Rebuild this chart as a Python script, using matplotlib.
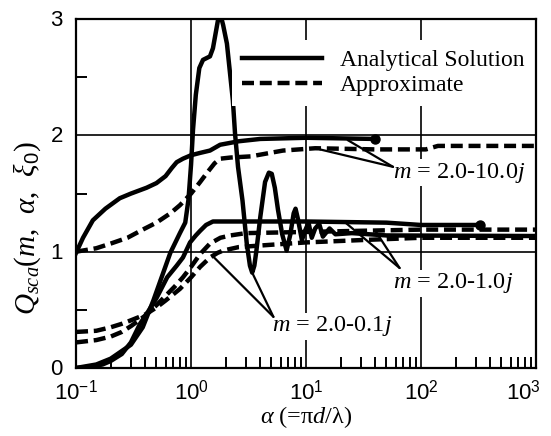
import matplotlib
matplotlib.use("Agg")
import matplotlib.pyplot as plt
from matplotlib.ticker import FixedLocator, LogLocator, FuncFormatter, NullFormatter
from matplotlib.transforms import ScaledTranslation
import numpy as np

plt.rcParams["font.family"] = ["Liberation Serif", "DejaVu Serif"]
plt.rcParams["mathtext.fontset"] = "custom"
plt.rcParams["mathtext.rm"] = "Liberation Sans"
plt.rcParams["mathtext.it"] = "Liberation Serif:italic"
plt.rcParams["mathtext.fallback"] = "stix"

# m = 2.0-10.0j
a_10_exact = [0.1, 0.115, 0.14, 0.18, 0.24, 0.3, 0.41, 0.5, 0.6, 0.68, 0.75, 0.85, 1.0,
              1.2, 1.46, 1.79, 2.6, 4.0, 10, 40]
q_10_exact = [0.99, 1.12, 1.27, 1.37, 1.46, 1.50, 1.55, 1.59, 1.65, 1.72, 1.77, 1.80, 1.83,
              1.85, 1.87, 1.92, 1.95, 1.97, 1.98, 1.97]
a_10_approx = [0.1, 0.15, 0.2, 0.28, 0.38, 0.5, 0.66, 0.8, 1.0, 1.2, 1.38, 1.6, 1.79, 2.2,
               3.3, 6.3, 12, 40, 110, 140, 1000]
q_10_approx = [1.0, 1.03, 1.07, 1.12, 1.19, 1.25, 1.33, 1.40, 1.50, 1.60, 1.68, 1.76, 1.80, 1.81,
               1.82, 1.87, 1.89, 1.88, 1.88, 1.91, 1.91]

# m = 2.0-1.0j
a_1_exact = [0.1, 0.13, 0.17, 0.2, 0.25, 0.3, 0.36, 0.42, 0.5, 0.62, 0.75, 0.85, 0.98,
             1.1, 1.2, 1.35, 1.55, 3, 10, 50, 100, 326]
q_1_exact = [0.0, 0.01, 0.03, 0.06, 0.12, 0.22, 0.38, 0.48, 0.60, 0.78, 0.88, 0.95, 1.08,
             1.14, 1.18, 1.23, 1.26, 1.26, 1.26, 1.25, 1.23, 1.23]
a_1_approx = [0.1, 0.15, 0.2, 0.25, 0.3, 0.4, 0.5, 0.6, 0.72, 0.85, 1.0, 1.2, 1.46, 1.8,
              2.2, 3, 10, 30, 100, 1000]
q_1_approx = [0.22, 0.24, 0.27, 0.31, 0.36, 0.45, 0.54, 0.62, 0.70, 0.78, 0.87, 0.98, 1.07, 1.12,
              1.14, 1.16, 1.17, 1.18, 1.19, 1.19]

# m = 2.0-0.1j
a_01_exact = [0.1, 0.15, 0.2, 0.3, 0.38, 0.47, 0.66, 0.8, 0.89, 0.95, 1.0, 1.04, 1.1, 1.18,
              1.27, 1.46, 1.55, 1.65, 1.72, 1.79, 1.9, 2.05, 2.31, 2.41, 2.56, 2.8, 3.05,
              3.25, 3.4, 3.55, 3.7, 4.0, 4.4, 4.75, 5.03, 5.35, 5.7, 6.2, 6.77, 7.3, 7.8,
              8.1, 8.5, 9.2, 9.8, 10.5, 11.2, 12, 13, 14, 16, 18, 25, 50, 1000]
q_01_exact = [0.0, 0.03, 0.08, 0.20, 0.35, 0.58, 0.99, 1.16, 1.25, 1.45, 1.75, 2.05, 2.35, 2.58,
              2.65, 2.68, 2.75, 2.90, 3.00, 3.05, 2.95, 2.79, 2.30, 2.02, 1.73, 1.44, 1.07,
              0.88, 0.82, 0.88, 1.01, 1.30, 1.60, 1.68, 1.67, 1.55, 1.36, 1.15, 1.01, 1.15, 1.33,
              1.37, 1.28, 1.10, 1.18, 1.25, 1.12, 1.20, 1.24, 1.13, 1.20, 1.15, 1.16, 1.14, 1.135]
a_01_approx = [0.1, 0.15, 0.2, 0.25, 0.3, 0.4, 0.5, 0.6, 0.8, 1.0, 1.2, 1.46, 1.7, 1.9,
               2.6, 5, 10, 30, 100, 1000]
q_01_approx = [0.31, 0.32, 0.35, 0.38, 0.41, 0.46, 0.52, 0.58, 0.68, 0.78, 0.87, 0.95, 0.99, 1.01,
               1.04, 1.06, 1.08, 1.10, 1.12, 1.12]

fig = plt.figure(figsize=(5.51, 4.36), dpi=100)
ax = fig.add_axes([0.138, 0.156, 0.835, 0.800])

lw = 3.2
dash = (2.7, 1.3)
ax.plot(a_10_exact, q_10_exact, "k-", lw=lw, label="Analytical Solution")
ax.plot(a_10_approx, q_10_approx, "k--", lw=lw, dashes=dash, label="Approximate")
ax.plot(a_1_exact, q_1_exact, "k-", lw=lw)
ax.plot(a_1_approx, q_1_approx, "k--", lw=lw, dashes=dash)
ax.plot(a_01_exact, q_01_exact, "k-", lw=lw)
ax.plot(a_01_approx, q_01_approx, "k--", lw=lw, dashes=dash)

# end markers on the analytical curves
ax.plot(a_10_exact[-1], q_10_exact[-1], "ko", ms=6.5)
ax.plot(a_1_exact[-1], q_1_exact[-1], "ko", ms=6.5)

ax.set_xscale("log")
ax.set_xlim(0.1, 1000)
ax.set_ylim(0, 3)

ax.yaxis.set_major_locator(FixedLocator([0, 1, 2, 3]))
ax.yaxis.set_minor_locator(FixedLocator([0.5, 1.5, 2.5]))
ax.xaxis.set_major_locator(FixedLocator([0.1, 1, 10, 100, 1000]))
ax.xaxis.set_minor_locator(LogLocator(base=10, subs=np.arange(2, 10), numticks=20))
ax.xaxis.set_minor_formatter(NullFormatter())
ax.xaxis.set_major_formatter(FuncFormatter(
    lambda v, p: r"$10^{%d}$" % int(round(np.log10(v)))))
ax.yaxis.set_major_formatter(FuncFormatter(lambda v, p: r"$%d$" % v))

ax.tick_params(which="major", length=0, labelsize=16)
ax.tick_params(axis="x", which="major", pad=9)
ax.tick_params(axis="y", which="major", pad=9)
ax.tick_params(which="minor", direction="in", length=8, width=1.4)
ax.grid(True, which="major", color="black", lw=1.2)
ax.set_axisbelow(True)
for s in ax.spines.values():
    s.set_linewidth(1.6)

ax.set_xlabel(r"$\alpha$ (=π$d$/λ)", fontsize=17.5, labelpad=-1)
ax.set_ylabel(r"$Q_{sca}$($m$,  $\alpha$,  $\xi_0$)", fontsize=21)
ax.yaxis.set_label_coords(-0.072, 0.40)

leg = ax.legend(loc="upper left", bbox_to_anchor=(0.34, 0.94), fontsize=17,
                handlelength=3.4, handletextpad=0.75, labelspacing=0.15,
                frameon=True, fancybox=False, borderaxespad=0)
leg.get_frame().set_facecolor("white")
leg.get_frame().set_edgecolor("none")
leg.get_frame().set_alpha(1)

box = dict(facecolor="white", edgecolor="none", pad=1)
arrow = dict(arrowstyle="-", color="black", lw=1.6, shrinkA=0, shrinkB=0)

ax.text(57, 1.68, r"$m$ = 2.0-10.0$j$", fontsize=17.5, ha="left", va="center", bbox=box)
for tx, ty in [(23, 1.96), (13.2, 1.88)]:
    ax.annotate("", xy=(tx, ty), xytext=(57, 1.73), arrowprops=arrow)

ax.text(57, 0.73, r"$m$ = 2.0-1.0$j$", fontsize=17.5, ha="left", va="center", bbox=box)
for tx, ty in [(22, 1.25), (40, 1.18)]:
    ax.annotate("", xy=(tx, ty), xytext=(65, 0.86), arrowprops=arrow)

ax.text(5.06, 0.36, r"$m$ = 2.0-0.1$j$", fontsize=17.5, ha="left", va="center", bbox=box)
for tx, ty in [(3.4, 0.82), (1.55, 0.96)]:
    ax.annotate("", xy=(tx, ty), xytext=(5.2, 0.44), arrowprops=arrow)

# pull the 10^3 label in so it stays inside the figure
fig.canvas.draw()
for t in ax.xaxis.get_major_ticks():
    if np.isclose(t.get_loc(), 1000):
        t.label1.set_transform(t.label1.get_transform()
                               + ScaledTranslation(-9 / 72, 0, fig.dpi_scale_trans))

fig.savefig("out.png", dpi=100)
